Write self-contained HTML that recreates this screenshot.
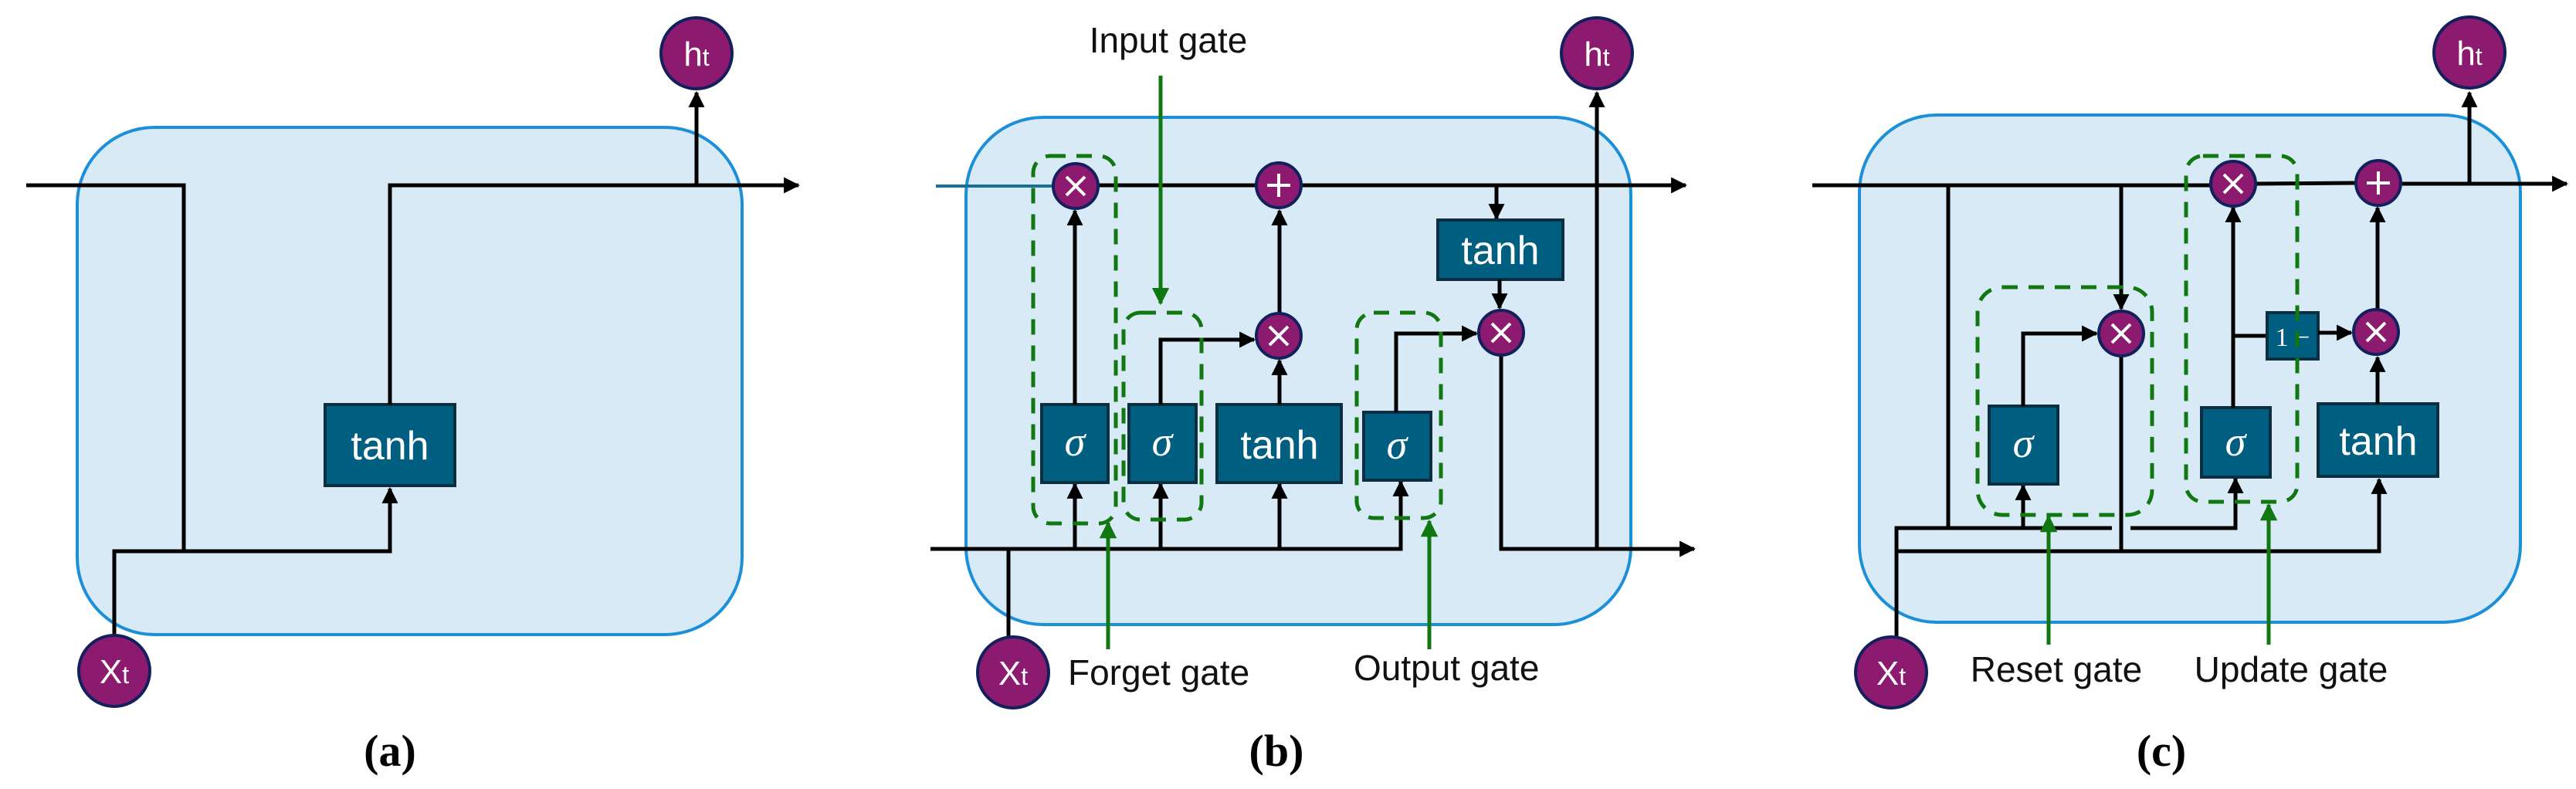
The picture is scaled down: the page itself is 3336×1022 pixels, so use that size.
<!DOCTYPE html>
<html><head><meta charset="utf-8"><style>html,body{margin:0;padding:0;background:#fff}svg{display:block}</style></head>
<body>
<svg xmlns="http://www.w3.org/2000/svg" width="3336" height="1022" viewBox="0 0 3336 1022">
<defs>
<marker id="ar" viewBox="0 0 10 10" refX="9" refY="5" markerWidth="4.2" markerHeight="4.2" orient="auto" markerUnits="strokeWidth"><path d="M0,0L10,5L0,10z" fill="#000"/></marker>
<marker id="ag" viewBox="0 0 10 10" refX="9" refY="5" markerWidth="4.5" markerHeight="4.5" orient="auto" markerUnits="strokeWidth"><path d="M0,0L10,5L0,10z" fill="#117711"/></marker>
<style>
.cell{fill:#d9eaf7;stroke:#1b8fd8;stroke-width:4}
.ln{fill:none;stroke:#000;stroke-width:5}
.bx{fill:#005f80;stroke:#0b2f40;stroke-width:4}
.bt{fill:#fff;font-family:"Liberation Sans",sans-serif;font-size:52px;text-anchor:middle}
.sg{fill:#fff;font-family:"Liberation Serif",serif;font-style:italic;font-size:54px;text-anchor:middle}
.ci{fill:#8c1a6e;stroke:#14205e;stroke-width:4}
.ct{fill:#fff;font-family:"Liberation Sans",sans-serif;font-size:44px;text-anchor:middle}
.op{stroke:#fff;stroke-width:4;fill:none}
.gd{fill:none;stroke:#117711;stroke-width:5;stroke-dasharray:20 14}
.ga{stroke:#117711;stroke-width:5;fill:none}
.lb{fill:#111;font-family:"Liberation Sans",sans-serif;font-size:46px}
.cap{fill:#000;font-family:"Liberation Serif",serif;font-weight:bold;font-size:58px;text-anchor:middle}
</style>
</defs>

<!-- ===== Panel (a) ===== -->
<rect class="cell" x="100" y="165" width="861" height="657" rx="100"/>
<polyline class="ln" points="34,240 238,240 238,714"/>
<polyline class="ln" points="148,822 148,714 505,714 505,633" marker-end="url(#ar)"/>
<line class="ln" x1="148" y1="822" x2="148" y2="840"/>
<rect class="bx" x="421" y="524" width="168" height="105"/>
<text class="bt" x="505" y="595">tanh</text>
<polyline class="ln" points="505,524 505,240 1034,240" marker-end="url(#ar)"/>
<line class="ln" x1="902" y1="240" x2="902" y2="120" marker-end="url(#ar)"/>
<circle class="ci" cx="148" cy="869" r="46"/><text class="ct" x="148" y="885">X<tspan font-size="32">t</tspan></text>
<circle class="ci" cx="902" cy="69" r="46"/><text class="ct" x="902" y="85">h<tspan font-size="32">t</tspan></text>
<text class="cap" x="505" y="992">(a)</text>

<!-- ===== Panel (b) ===== -->
<rect class="cell" x="1251" y="152" width="861" height="657" rx="100"/>
<line x1="1212" y1="241" x2="1363" y2="241" stroke="#1a6f99" stroke-width="4"/>
<line class="ln" x1="1423" y1="240" x2="1626" y2="240"/>
<line class="ln" x1="1686" y1="240" x2="2183" y2="240" marker-end="url(#ar)"/>
<line class="ln" x1="1938" y1="240" x2="1938" y2="283" marker-end="url(#ar)"/>
<rect class="bx" x="1862" y="285" width="162" height="77"/>
<text class="bt" x="1943" y="342">tanh</text>
<line class="ln" x1="1942" y1="362" x2="1942" y2="399" marker-end="url(#ar)"/>
<polyline class="ln" points="1205,711 1814,711 1814,624" marker-end="url(#ar)"/>
<line class="ln" x1="1392" y1="711" x2="1392" y2="627" marker-end="url(#ar)"/>
<line class="ln" x1="1503" y1="711" x2="1503" y2="627" marker-end="url(#ar)"/>
<line class="ln" x1="1657" y1="711" x2="1657" y2="627" marker-end="url(#ar)"/>
<line class="ln" x1="1306" y1="711" x2="1306" y2="825"/>
<rect class="bx" x="1349" y="524" width="86" height="101"/><text class="sg" x="1392" y="590">σ</text>
<rect class="bx" x="1462" y="524" width="87" height="101"/><text class="sg" x="1505" y="590">σ</text>
<rect class="bx" x="1576" y="524" width="161" height="101"/><text class="bt" x="1657" y="594">tanh</text>
<rect class="bx" x="1766" y="534" width="87" height="88"/><text class="sg" x="1809" y="594">σ</text>
<line class="ln" x1="1392" y1="524" x2="1392" y2="273" marker-end="url(#ar)"/>
<polyline class="ln" points="1503,524 1503,440 1624,440" marker-end="url(#ar)"/>
<line class="ln" x1="1657" y1="524" x2="1657" y2="467" marker-end="url(#ar)"/>
<line class="ln" x1="1657" y1="405" x2="1657" y2="273" marker-end="url(#ar)"/>
<polyline class="ln" points="1808,534 1808,432 1912,432" marker-end="url(#ar)"/>
<polyline class="ln" points="1944,461 1944,711 2194,711" marker-end="url(#ar)"/>
<line class="ln" x1="2068" y1="711" x2="2068" y2="120" marker-end="url(#ar)"/>
<circle class="ci" cx="1393" cy="241" r="29"/><path class="op" d="M1381,229L1405,253M1405,229L1381,253"/>
<circle class="ci" cx="1656" cy="240" r="29"/><path class="op" d="M1656,225V255M1641,240H1671"/>
<circle class="ci" cx="1656" cy="435" r="29"/><path class="op" d="M1644,423L1668,447M1668,423L1644,447"/>
<circle class="ci" cx="1944" cy="431" r="29"/><path class="op" d="M1932,419L1956,443M1956,419L1932,443"/>
<rect class="gd" x="1338" y="202" width="107" height="476" rx="22"/>
<rect class="gd" x="1455" y="405" width="101" height="268" rx="22"/>
<rect class="gd" x="1757" y="405" width="109" height="266" rx="22"/>
<line class="ga" x1="1503" y1="98" x2="1503" y2="393" marker-end="url(#ag)"/>
<line class="ga" x1="1435" y1="841" x2="1435" y2="677" marker-end="url(#ag)"/>
<line class="ga" x1="1851" y1="841" x2="1851" y2="675" marker-end="url(#ag)"/>
<text class="lb" x="1513" y="68" text-anchor="middle">Input gate</text>
<text class="lb" x="1383" y="887">Forget gate</text>
<text class="lb" x="1753" y="881">Output gate</text>
<circle class="ci" cx="1312" cy="871" r="46"/><text class="ct" x="1312" y="887">X<tspan font-size="32">t</tspan></text>
<circle class="ci" cx="2068" cy="69" r="46"/><text class="ct" x="2068" y="85">h<tspan font-size="32">t</tspan></text>
<text class="cap" x="1653" y="992">(b)</text>

<!-- ===== Panel (c) ===== -->
<rect class="cell" x="2408" y="149" width="856" height="657" rx="100"/>
<line class="ln" x1="2347" y1="240" x2="2862" y2="240"/>
<line class="ln" x1="2922" y1="238" x2="3051" y2="237"/>
<line class="ln" x1="3111" y1="238" x2="3324" y2="238" marker-end="url(#ar)"/>
<line class="ln" x1="2523" y1="240" x2="2523" y2="684"/>
<line class="ln" x1="2747" y1="240" x2="2747" y2="400" marker-end="url(#ar)"/>
<line class="ln" x1="2747" y1="462" x2="2747" y2="714"/>
<polyline class="ln" points="2456,840 2456,684 2735,684"/>
<polyline class="ln" points="2759,684 2895,684 2895,620" marker-end="url(#ar)"/>
<line class="ln" x1="2620" y1="684" x2="2620" y2="629" marker-end="url(#ar)"/>
<polyline class="ln" points="2456,714 3081,714 3081,621" marker-end="url(#ar)"/>
<rect class="bx" x="2576" y="526" width="89" height="101"/><text class="sg" x="2620" y="592">σ</text>
<polyline class="ln" points="2620,526 2620,432 2715,432" marker-end="url(#ar)"/>
<rect class="bx" x="2851" y="528" width="89" height="90"/><text class="sg" x="2895" y="590">σ</text>
<line class="ln" x1="2892" y1="528" x2="2892" y2="269" marker-end="url(#ar)"/>
<line class="ln" x1="2892" y1="435" x2="2936" y2="435"/>
<rect class="bx" x="2936" y="405" width="66" height="60"/>
<text x="2969" y="448" fill="#fff" font-family="Liberation Serif,serif" font-size="34" text-anchor="middle">1 −</text>
<line class="ln" x1="3002" y1="431" x2="3045" y2="431" marker-end="url(#ar)"/>
<rect class="bx" x="3002" y="523" width="155" height="94"/><text class="bt" x="3080" y="589">tanh</text>
<line class="ln" x1="3079" y1="523" x2="3079" y2="463" marker-end="url(#ar)"/>
<line class="ln" x1="3079" y1="401" x2="3079" y2="269" marker-end="url(#ar)"/>
<line class="ln" x1="3198" y1="238" x2="3198" y2="120" marker-end="url(#ar)"/>
<circle class="ci" cx="2747" cy="432" r="29"/><path class="op" d="M2735,420L2759,444M2759,420L2735,444"/>
<circle class="ci" cx="2892" cy="238" r="29"/><path class="op" d="M2880,226L2904,250M2904,226L2880,250"/>
<circle class="ci" cx="3080" cy="237" r="29"/><path class="op" d="M3080,222V252M3065,237H3095"/>
<circle class="ci" cx="3077" cy="430" r="29"/><path class="op" d="M3065,418L3089,442M3089,418L3065,442"/>
<rect class="gd" x="2561" y="372" width="226" height="295" rx="32"/>
<rect class="gd" x="2831" y="202" width="144" height="448" rx="22"/>
<line class="ga" x1="2653" y1="835" x2="2653" y2="669" marker-end="url(#ag)"/>
<line class="ga" x1="2938" y1="835" x2="2938" y2="654" marker-end="url(#ag)"/>
<text class="lb" x="2663" y="883" text-anchor="middle">Reset gate</text>
<text class="lb" x="2967" y="883" text-anchor="middle">Update gate</text>
<circle class="ci" cx="2449" cy="871" r="46"/><text class="ct" x="2449" y="887">X<tspan font-size="32">t</tspan></text>
<circle class="ci" cx="3198" cy="68" r="46"/><text class="ct" x="3198" y="84">h<tspan font-size="32">t</tspan></text>
<text class="cap" x="2799" y="992">(c)</text>
</svg>
</body></html>
